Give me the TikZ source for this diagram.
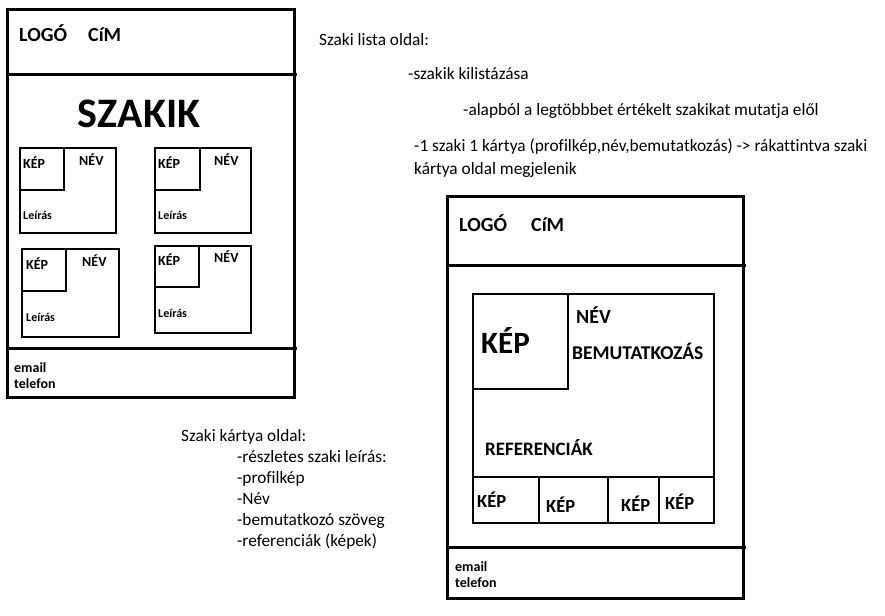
\documentclass[tikz,border=0pt]{standalone}
\usepackage{fontspec}
\setmainfont[Ligatures=NoCommon]{Carlito}
\begin{document}
\begin{tikzpicture}[x=1pt,y=-1pt,
  frame/.style={draw=black,line width=3pt},
  thin frame/.style={draw=black,line width=2.6pt},
  lbl/.style={font=\bfseries\fontsize{#1}{#1}\selectfont,inner sep=0pt,anchor=base west},
  note/.style={font=\fontsize{17.3}{21}\selectfont,inner sep=0pt,anchor=base west}]
\useasboundingbox[fill=white] (0,0) rectangle (885,615);
% ---------- left page ----------
\draw[frame] (7,10) rectangle (294,397);
\draw[frame] (7,75) -- (297,75);
\draw[frame] (7,348) -- (297,348);
\node[lbl=20] (l1) at (19,42) {LOGÓ};
\node[lbl=20] (c1) at (88,42) {CíM};
\node[font=\bfseries\fontsize{42}{42}\selectfont,inner sep=0pt,anchor=base] (sz) at (139,128) {SZAKIK};
% card 1
\draw[thin frame] (20,148) rectangle (116,233);
\draw[thin frame] (20,148) rectangle (64,190);
\node[lbl=14] (k1) at (23,168) {KÉP};
\node[lbl=14] (n1) at (79,165) {NÉV};
\node[lbl=12] (d1) at (23,219) {Leírás};
% card 2
\draw[thin frame] (155,148) rectangle (251,233);
\draw[thin frame] (155,148) rectangle (200,190);
\node[lbl=14] (k2) at (158,168) {KÉP};
\node[lbl=14] (n2) at (214,165) {NÉV};
\node[lbl=12] (d2) at (158,219) {Leírás};
% card 3
\draw[thin frame] (22,249) rectangle (119,337);
\draw[thin frame] (22,249) rectangle (66,291);
\node[lbl=14] (k3) at (26,269) {KÉP};
\node[lbl=14] (n3) at (82,266) {NÉV};
\node[lbl=12] (d3) at (26,321) {Leírás};
% card 4
\draw[thin frame] (155,246) rectangle (251,333);
\draw[thin frame] (155,246) rectangle (199,287);
\node[lbl=14] (k4) at (158,265) {KÉP};
\node[lbl=14] (n4) at (214,262) {NÉV};
\node[lbl=12] (d4) at (158,317) {Leírás};
\node[lbl=14] (e1) at (14,372) {email};
\node[lbl=14] (t1) at (14,388) {telefon};
% ---------- right page ----------
\draw[frame] (447,196) rectangle (743,598);
\draw[frame] (447,265) -- (746,265);
\draw[frame] (447,547) -- (746,547);
\node[lbl=20] (l2) at (459,231) {LOGÓ};
\node[lbl=20] (c2) at (531,231) {CíM};
\draw[thin frame] (473,294) rectangle (714,523);
\draw[thin frame] (473,294) rectangle (568,389);
\node[lbl=31] (kb) at (481,353) {KÉP};
\node[lbl=20] (nb) at (576,323) {NÉV};
\node[lbl=19.5] (bm) at (572,359) {BEMUTATKOZÁS};
\node[lbl=19] (rf) at (485,455) {REFERENCIÁK};
\draw[thin frame] (473,477) -- (714,477);
\draw[thin frame] (539,477) -- (539,523);
\draw[thin frame] (608,477) -- (608,523);
\draw[thin frame] (659,477) -- (659,523);
\node[lbl=18.5] (r1) at (477,507) {KÉP};
\node[lbl=18.5] (r2) at (546,512) {KÉP};
\node[lbl=18.5] (r3) at (621,511) {KÉP};
\node[lbl=18.5] (r4) at (665,509) {KÉP};
\node[lbl=14] (e2) at (455,571) {email};
\node[lbl=14] (t2) at (455,587) {telefon};
% ---------- notes ----------
\node[note] (s1) at (319,46) {Szaki lista oldal:};
\node[note] (s2) at (408,80) {-szakik kilistázása};
\node[note] (s3) at (463,115) {-alapból a legtöbbbet értékelt szakikat mutatja elől};
\node[note] (s4) at (414,151) {-1 szaki 1 kártya (profilkép,név,bemutatkozás) -> rákattintva szaki};
\node[note] (s5) at (414,174) {kártya oldal megjelenik};
\node[note] (p1) at (181,441) {Szaki kártya oldal:};
\node[note] (p2) at (237,462) {-részletes szaki leírás:};
\node[note] (p3) at (237,483) {-profilkép};
\node[note] (p4) at (237,504) {-Név};
\node[note] (p5) at (237,525) {-bemutatkozó szöveg};
\node[note] (p6) at (237,546) {-referenciák (képek)};
\end{tikzpicture}
\end{document}
